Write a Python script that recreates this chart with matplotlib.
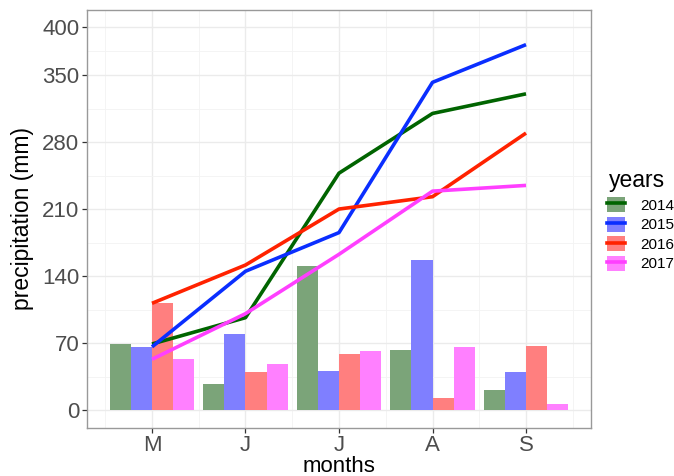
import numpy as np
import matplotlib
matplotlib.use("Agg")
import matplotlib.pyplot as plt
from matplotlib.patches import Patch
from matplotlib.lines import Line2D

months = ["M", "J", "J", "A", "S"]
years = ["2014", "2015", "2016", "2017"]
p2014 = [69, 27.5, 151, 62.4, 20.5]
p2015 = [66, 79, 40.4, 157, 39.4]
p2016 = [111.5, 40, 58.5, 12.9, 66.5]
p2017 = [53, 47.7, 62, 66, 6]
series = [p2014, p2015, p2016, p2017]
yticks = [0, 70, 140, 210, 280, 350, 400]

bar_colors = ["#7ba479", "#7f7fff", "#ff7f7f", "#ff80ff"]
line_colors = ["#006400", "#0a2eff", "#ff2200", "#ff3fff"]

plt.rcParams['font.family'] = ['Liberation Sans', 'DejaVu Sans']
fig = plt.figure(figsize=(6.74, 4.76), dpi=100)
ax = fig.add_axes([87/674, 1-428/476, (591-87)/674, (428-10)/476])

x = np.arange(1, len(months) + 1)
w = 0.225
for i, vals in enumerate(series):
    ax.bar(x + (i - 1.5) * w, vals, width=w, color=bar_colors[i], zorder=2)
for i, vals in enumerate(series):
    ax.plot(x, np.cumsum(vals), color=line_colors[i], lw=2.6, zorder=3,
            solid_capstyle='butt')

ax.set_xlim(0.305, 5.695)
ax.set_ylim(-18.8, 418)
ax.set_xticks(x)
ax.set_xticklabels(months)
ax.set_yticks(yticks)
ax.set_xticks(np.arange(0.5, 6.0, 1.0), minor=True)
ax.set_yticks([35, 105, 175, 245, 315, 375], minor=True)
ax.grid(True, which='major', color='#ebebeb', lw=1.0, zorder=0)
ax.grid(True, which='minor', color='#f3f3f3', lw=0.6, zorder=0)
ax.set_axisbelow(True)
ax.tick_params(which='major', length=3.5, width=0.9, color='#333333',
               labelsize=16, labelcolor='#4d4d4d', pad=2)
ax.tick_params(axis='x', which='major', pad=1.5)
ax.tick_params(which='minor', length=0)
for s in ax.spines.values():
    s.set_color('#999999')
    s.set_linewidth(1.0)

ax.set_xlabel("months", fontsize=16, labelpad=0)
ax.set_ylabel("precipitation (mm)", fontsize=16.5, labelpad=6)

fig.text(609/674, 1-180/476, "years", fontsize=16.5, ha='left', va='center')
handles = [(Patch(facecolor=bar_colors[i], edgecolor='none'),
            Line2D([], [], color=line_colors[i], lw=2.6)) for i in range(4)]
leg = fig.legend(handles, years, loc='upper left',
                 bbox_to_anchor=(607/674, 1-197/476), frameon=False,
                 fontsize=11, handlelength=1.2, handleheight=1.15,
                 labelspacing=0.25, handletextpad=0.95, borderpad=0,
                 borderaxespad=0)

fig.savefig("out.png", dpi=100)
